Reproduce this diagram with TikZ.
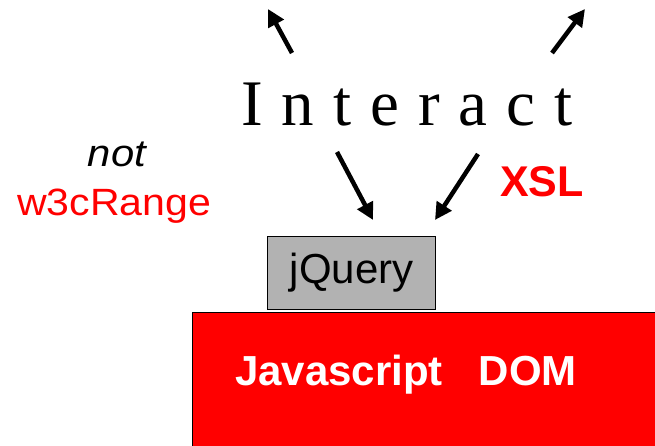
\documentclass[tikz,border=0pt]{standalone}
\usepackage{fontspec}
\setmainfont{Liberation Sans}
\newfontfamily\serifface{Liberation Serif}
\usetikzlibrary{arrows.meta}

\begin{document}
\begin{tikzpicture}[x=1pt,y=-1pt,
    push/.style={line width=4.5pt,-{Triangle[length=17pt,width=17pt]}},
    layer/.style={draw=black,line width=1.2pt,inner sep=0pt,anchor=north west}]
\useasboundingbox (0,0) rectangle (655,446);

% boxes
\node[layer,fill=red,minimum width=470pt,minimum height=140pt] (dom) at (192,312) {};
\node[anchor=base west,text=white,inner sep=0pt] (domtext) at (235,385)
    {\fontsize{42}{50}\selectfont\bfseries Javascript\hspace{36pt}DOM};
\node[layer,fill=black!30,minimum width=168pt,minimum height=73pt] (jquery) at (267,236) {};
\node[inner sep=0pt] (jqtext) at (jquery.center) {\fontsize{42}{48}\selectfont jQuery};

% labels
\node[anchor=base west,inner sep=0pt] (interact) at (241,126)
    {\serifface\fontsize{65}{70}\selectfont
     I\hskip19pt n\hskip19pt t\hskip19pt e\hskip19pt r\hskip19pt a\hskip19pt c\hskip19pt t};
\node[anchor=base west,inner sep=0pt,text=red] (xsl) at (500,197)
    {\fontsize{43}{50}\selectfont\bfseries XSL};
\node[anchor=base,inner sep=0pt,xscale=1.1] (nottext) at (117,167)
    {\fontsize{38}{44}\selectfont\itshape not};
\node[anchor=base,inner sep=0pt,xscale=1.08,text=red] (range) at (114,216)
    {\fontsize{38}{44}\selectfont w3cRange};

% arrows
\coordinate (upLs) at (292,53);
\coordinate (upLe) at (268,9);
\coordinate (upRs) at (552,53);
\coordinate (upRe) at (585,9);
\coordinate (dnLs) at (337,152);
\coordinate (dnLe) at (373,220);
\coordinate (dnRs) at (478,154);
\coordinate (dnRe) at (435,220);
\draw[push] (upLs) -- (upLe);
\draw[push] (upRs) -- (upRe);
\draw[push] (dnLs) -- (dnLe);
\draw[push] (dnRs) -- (dnRe);
\end{tikzpicture}
\end{document}
